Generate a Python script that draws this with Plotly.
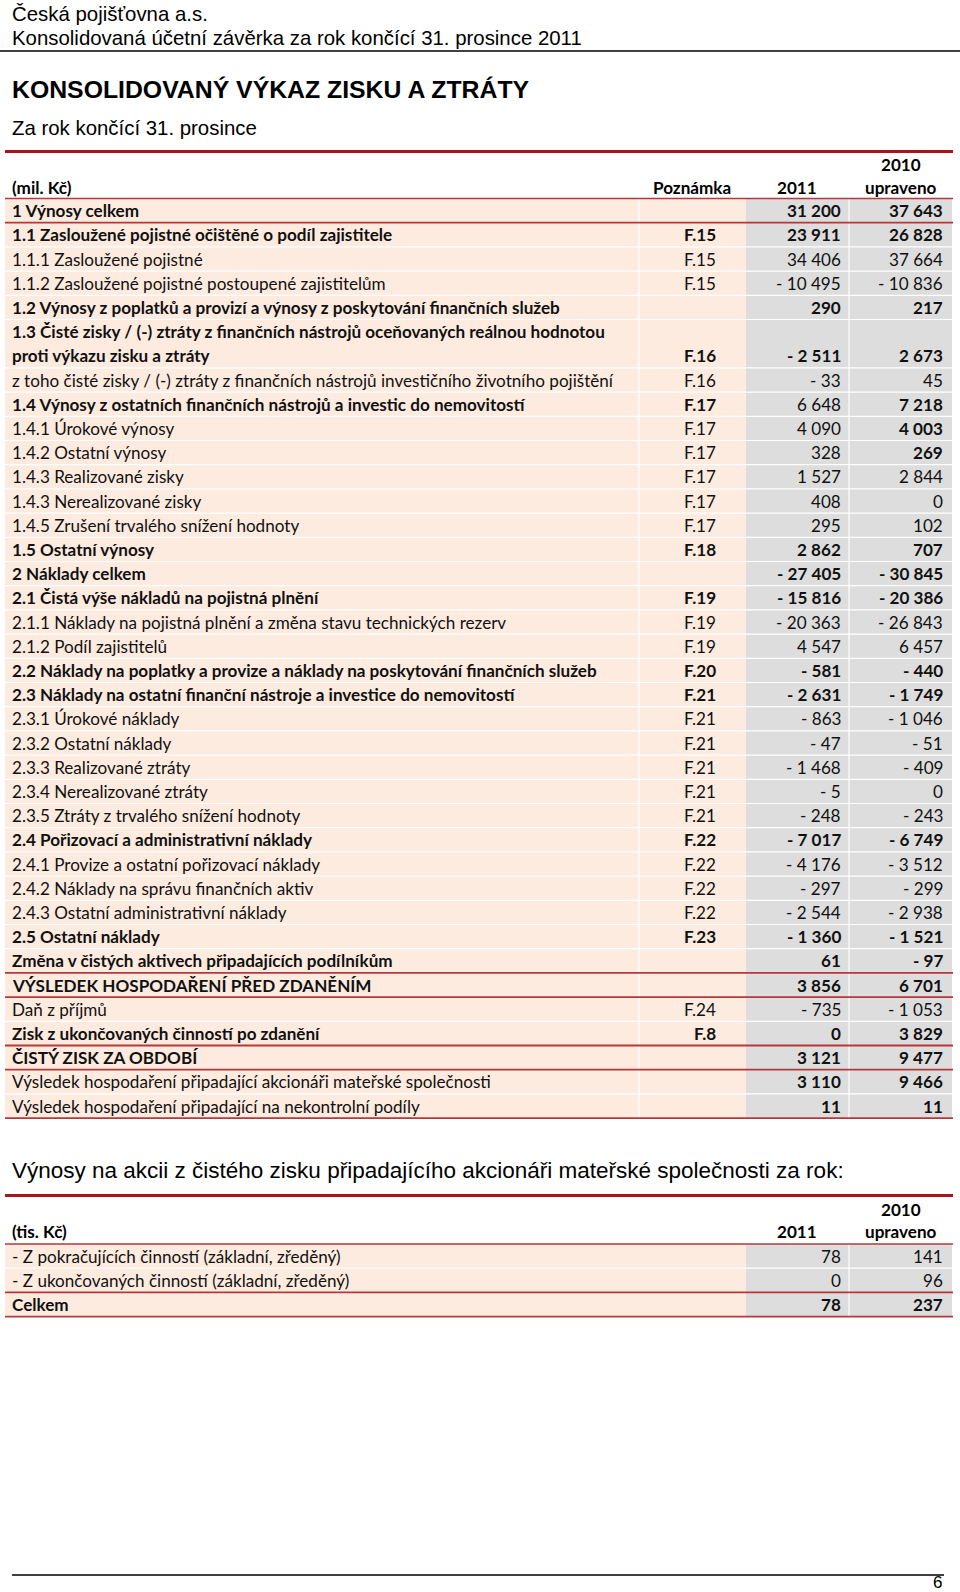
import plotly.graph_objects as go

# ---------------- data ----------------
labels = [
    "1 Výnosy celkem",
    "1.1 Zasloužené pojistné očištěné o podíl zajistitele",
    "1.1.1 Zasloužené pojistné",
    "1.1.2 Zasloužené pojistné postoupené zajistitelům",
    "1.2 Výnosy z poplatků a provizí a výnosy z poskytování finančních služeb",
    "1.3 Čisté zisky / (-) ztráty z finančních nástrojů oceňovaných reálnou hodnotou\nproti výkazu zisku a ztráty",
    "z toho čisté zisky / (-) ztráty z finančních nástrojů investičního životního pojištění",
    "1.4 Výnosy z ostatních finančních nástrojů a investic do nemovitostí",
    "1.4.1 Úrokové výnosy",
    "1.4.2 Ostatní výnosy",
    "1.4.3 Realizované zisky",
    "1.4.3 Nerealizované zisky",
    "1.4.5 Zrušení trvalého snížení hodnoty",
    "1.5 Ostatní výnosy",
    "2 Náklady celkem",
    "2.1 Čistá výše nákladů na pojistná plnění",
    "2.1.1 Náklady na pojistná plnění a změna stavu technických rezerv",
    "2.1.2 Podíl zajistitelů",
    "2.2 Náklady na poplatky a provize a náklady na poskytování finančních služeb",
    "2.3 Náklady na ostatní finanční nástroje a investice do nemovitostí",
    "2.3.1 Úrokové náklady",
    "2.3.2 Ostatní náklady",
    "2.3.3 Realizované ztráty",
    "2.3.4 Nerealizované ztráty",
    "2.3.5 Ztráty z trvalého snížení hodnoty",
    "2.4 Pořizovací a administrativní náklady",
    "2.4.1 Provize a ostatní pořizovací náklady",
    "2.4.2 Náklady na správu finančních aktiv",
    "2.4.3 Ostatní administrativní náklady",
    "2.5 Ostatní náklady",
    "Změna v čistých aktivech připadajících podílníkům",
    "VÝSLEDEK HOSPODAŘENÍ PŘED ZDANĚNÍM",
    "Daň z příjmů",
    "Zisk z ukončovaných činností po zdanění",
    "ČISTÝ ZISK ZA OBDOBÍ",
    "Výsledek hospodaření připadající akcionáři mateřské společnosti",
    "Výsledek hospodaření připadající na nekontrolní podíly",
]
notes = ["", "F.15", "F.15", "F.15", "", "F.16", "F.16", "F.17", "F.17", "F.17",
         "F.17", "F.17", "F.17", "F.18", "", "F.19", "F.19", "F.19", "F.20", "F.21",
         "F.21", "F.21", "F.21", "F.21", "F.21", "F.22", "F.22", "F.22", "F.22", "F.23",
         "", "", "F.24", "F.8", "", "", ""]
values_2011 = [31200, 23911, 34406, -10495, 290, -2511, -33, 6648, 4090, 328,
               1527, 408, 295, 2862, -27405, -15816, -20363, 4547, -581, -2631,
               -863, -47, -1468, -5, -248, -7017, -4176, -297, -2544, -1360,
               61, 3856, -735, 0, 3121, 3110, 11]
values_2010 = [37643, 26828, 37664, -10836, 217, 2673, 45, 7218, 4003, 269,
               2844, 0, 102, 707, -30845, -20386, -26843, 6457, -440, -1749,
               -1046, -51, -409, 0, -243, -6749, -3512, -299, -2938, -1521,
               -97, 6701, -1053, 3829, 9477, 9466, 11]
# weight flags per row: label, note, 2011, 2010 (B bold / R regular)
row_weights = ["BBBB", "BBBB", "RRRR", "RRRR", "BBBB", "BBBB", "RRRR", "BBRB", "RRRB", "RRRB",
               "RRRR", "RRRR", "RRRR", "BBBB", "BBBB", "BBBB", "RRRR", "RRRR", "BBBB", "BBBB",
               "RRRR", "RRRR", "RRRR", "RRRR", "RRRR", "BBBB", "RRRR", "RRRR", "RRRR", "BBBB",
               "BBBB", "BBBB", "RRRR", "BBBB", "BBBB", "RRBB", "RRBB"]
red_after = [0, 30, 31, 33, 34, 36]

eps_labels = ["- Z pokračujících činností (základní, zředěný)",
              "- Z ukončovaných činností (základní, zředěný)",
              "Celkem"]
eps_2011 = [78, 0, 78]
eps_2010 = [141, 96, 237]
eps_weights = ["RRR", "RRR", "BBB"]
eps_red_after = [1, 2]

# ---------------- styling ----------------
W, H = 960, 1592
PEACH = "#fdebdf"
GRAY = "#dddddd"
RED_THICK = "#a8141c"
RED = "#b5393c"
TFONT = "Lato"
HFONT = "Liberation Sans, Arial"
TSIZE = 17.1

X0, X_NOTE, X_C1, X_C2, X1 = 5, 639, 746, 849, 953
XT = 10
UNIT = 24.2

shapes = []
ann = []


def fmt(v):
    s = f"{abs(v):,}".replace(",", " ")
    return ("- " + s) if v < 0 else s


def text(x, y, t, anchor="left", size=TSIZE, bold=False, family=TFONT, color="#111"):
    ann.append(dict(x=x, y=y, xref="x", yref="y", text=(f"<b>{t}</b>" if bold else t),
                    showarrow=False, xanchor=anchor, yanchor="middle",
                    font=dict(family=family, size=size, color=color)))


def rect(x0, y0, x1, y1, color):
    shapes.append(dict(type="rect", xref="x", yref="y", x0=x0, x1=x1, y0=y0, y1=y1,
                       fillcolor=color, line=dict(width=0), layer="below"))


def hline(y, x0, x1, color, width):
    shapes.append(dict(type="line", xref="x", yref="y", x0=x0, x1=x1, y0=y, y1=y,
                       line=dict(color=color, width=width), layer="above"))


def vline(x, y0, y1, color, width):
    shapes.append(dict(type="line", xref="x", yref="y", x0=x, x1=x, y0=y0, y1=y1,
                       line=dict(color=color, width=width), layer="above"))


# ---------------- page header ----------------
text(XT, 14, "Česká pojišťovna a.s.", size=20.4, family=HFONT, color="#000")
text(XT, 38, "Konsolidovaná účetní závěrka za rok končící 31. prosince 2011", size=20.4, family=HFONT, color="#000")
hline(51, 0, W, "#000", 1.5)
text(XT, 89, "KONSOLIDOVANÝ VÝKAZ ZISKU A ZTRÁTY", size=24.8, bold=True, family=HFONT, color="#000")
text(XT, 128, "Za rok končící 31. prosince", size=20.4, family=HFONT, color="#000")

# ---------------- main table ----------------
TOP = 198.5
hline(151.5, X0, X1, RED_THICK, 3)
text(XT, 187, "(mil. Kč)", bold=True, color="#000")
text(692, 187, "Poznámka", anchor="center", bold=True, color="#000")
text(797, 187, "2011", anchor="center", bold=True, color="#000")
text(901, 164.5, "2010", anchor="center", bold=True, color="#000")
text(901, 187, "upraveno", anchor="center", bold=True, color="#000")

units = [len(l.split("\n")) for l in labels]
total_units = sum(units)
bottom = TOP + total_units * UNIT
rect(X0, TOP, X_C1, bottom, PEACH)
rect(X_C1, TOP, X1 - 1, bottom, GRAY)
vline(X_NOTE, TOP, bottom, "#ffffff", 1.2)
vline(X_C2, TOP, bottom, "#ffffff", 1.2)

u = 0
row_bottoms = []
for i, lab in enumerate(labels):
    lines = lab.split("\n")
    wts = row_weights[i]
    for k, ln in enumerate(lines):
        yc = TOP + (u + k + 0.5) * UNIT
        text(XT, yc, ln, bold=(wts[0] == "B"))
    yv = TOP + (u + len(lines) - 0.5) * UNIT
    if notes[i]:
        text(718, yv, notes[i], anchor="right", bold=(wts[1] == "B"))
    text(843, yv, fmt(values_2011[i]), anchor="right", bold=(wts[2] == "B"))
    text(945, yv, fmt(values_2010[i]), anchor="right", bold=(wts[3] == "B"))
    u += len(lines)
    yb = TOP + u * UNIT
    row_bottoms.append(yb)
    if i not in red_after:
        hline(yb, X0, X1 - 1, "#ffffff", 1.2)

hline(TOP, X0, X1, RED, 1.6)
for i in red_after:
    hline(row_bottoms[i], X0, X1, RED, 1.8)

# ---------------- EPS table ----------------
text(XT, 1170, "Výnosy na akcii z čistého zisku připadajícího akcionáři mateřské společnosti za rok:",
     size=22.5, family=HFONT, color="#000")
ETOP = 1244
hline(1195.5, X0, X1, RED_THICK, 3)
text(XT, 1231.5, "(tis. Kč)", bold=True, color="#000")
text(797, 1231.5, "2011", anchor="center", bold=True, color="#000")
text(901, 1209, "2010", anchor="center", bold=True, color="#000")
text(901, 1231.5, "upraveno", anchor="center", bold=True, color="#000")
ebottom = ETOP + len(eps_labels) * UNIT
rect(X0, ETOP, X_C1, ebottom, PEACH)
rect(X_C1, ETOP, X1 - 1, ebottom, GRAY)
vline(X_C2, ETOP, ebottom, "#ffffff", 1.2)
for i, lab in enumerate(eps_labels):
    yc = ETOP + (i + 0.5) * UNIT
    wts = eps_weights[i]
    text(XT, yc, lab, bold=(wts[0] == "B"))
    text(843, yc, fmt(eps_2011[i]), anchor="right", bold=(wts[1] == "B"))
    text(945, yc, fmt(eps_2010[i]), anchor="right", bold=(wts[2] == "B"))
    yb = ETOP + (i + 1) * UNIT
    if i not in eps_red_after:
        hline(yb, X0, X1 - 1, "#ffffff", 1.2)
hline(ETOP, X0, X1, RED, 1.6)
for i in eps_red_after:
    hline(ETOP + (i + 1) * UNIT, X0, X1, RED, 1.8)

# ---------------- footer ----------------
hline(1575, 12, 944, "#000", 1.5)
text(944, 1582.5, "6", anchor="right", size=17, family=HFONT, color="#000")

fig = go.Figure()
fig.add_trace(go.Scatter(x=[0, W], y=[0, H], mode="markers", marker=dict(opacity=0),
                         hoverinfo="skip", showlegend=False))
fig.update_layout(
    width=W, height=H, margin=dict(l=0, r=0, t=0, b=0),
    paper_bgcolor="#ffffff", plot_bgcolor="#ffffff",
    xaxis=dict(range=[0, W], visible=False, fixedrange=True),
    yaxis=dict(range=[H, 0], visible=False, fixedrange=True),
    shapes=shapes, annotations=ann, showlegend=False,
)
fig.write_html("out.html", config={"displayModeBar": False},
               post_script="document.body.style.margin='0';document.body.style.overflow='hidden';")
